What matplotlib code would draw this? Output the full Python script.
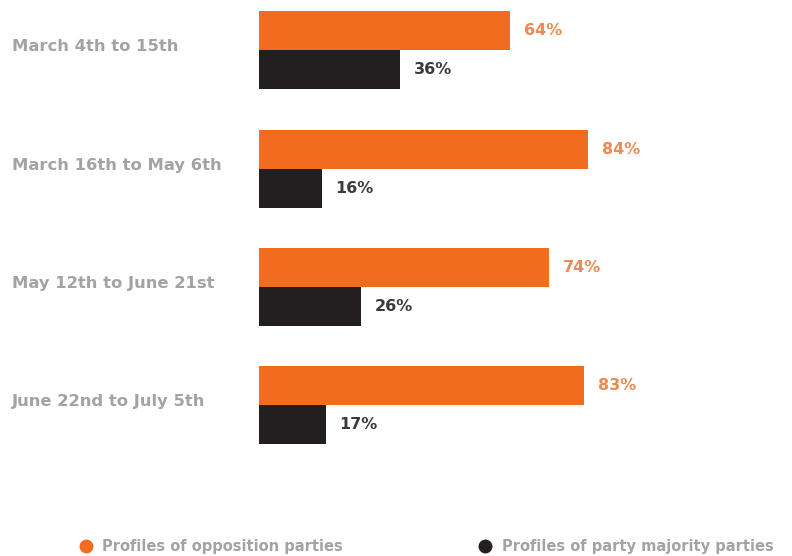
import matplotlib.pyplot as plt
from matplotlib.lines import Line2D
from matplotlib.transforms import blended_transform_factory
import numpy as np

periods = ['March 4th to 15th', 'March 16th to May 6th',
           'May 12th to June 21st', 'June 22nd to July 5th']
opposition = [64, 84, 74, 83]
majority = [36, 16, 26, 17]
series_names = ['Profiles of opposition parties', 'Profiles of party majority parties']

ORANGE = '#f26c1f'
DARK = '#231f20'
GREY = '#a3a3a3'
BAR_H = 0.33

fig = plt.figure(figsize=(7.92, 5.56), dpi=100)
ax = fig.add_axes([259 / 792, 1 - 476 / 556, 392 / 792, (476 - 3) / 556])

y = np.arange(len(periods))
ax.barh(y - BAR_H / 2, opposition, height=BAR_H, color=ORANGE)
ax.barh(y + BAR_H / 2, majority, height=BAR_H, color=DARK)

for yi, v in zip(y, opposition):
    ax.text(v + 3.5, yi - BAR_H / 2, f'{v}%', color='#ec8a55', fontsize=11.5,
            fontweight='bold', va='center', ha='left')
for yi, v in zip(y, majority):
    ax.text(v + 3.5, yi + BAR_H / 2, f'{v}%', color='#3a3a3a', fontsize=11.5,
            fontweight='bold', va='center', ha='left')

# period names: x in figure units, y in data units
label_tr = blended_transform_factory(fig.transFigure, ax.transData)
for yi, name in zip(y, periods):
    ax.text(12 / 792, yi - 0.03, name, transform=label_tr,
            color=GREY, fontsize=11.8, fontweight='bold', va='center', ha='left')

ax.set_xlim(0, 100)
ax.set_ylim(3.6, -0.4)
ax.axis('off')

handles = [Line2D([], [], marker='o', ls='', color=ORANGE, markersize=9),
           Line2D([], [], marker='o', ls='', color=DARK, markersize=9)]
leg = fig.legend(handles, series_names, loc='center left',
                 bbox_to_anchor=(58 / 792, 1 - 547 / 556),
                 ncol=2, frameon=False, columnspacing=8.75, handletextpad=0.15,
                 prop={'size': 10.5, 'weight': 'bold'})
for t in leg.get_texts():
    t.set_color(GREY)

fig.savefig('out.png', dpi=100)
